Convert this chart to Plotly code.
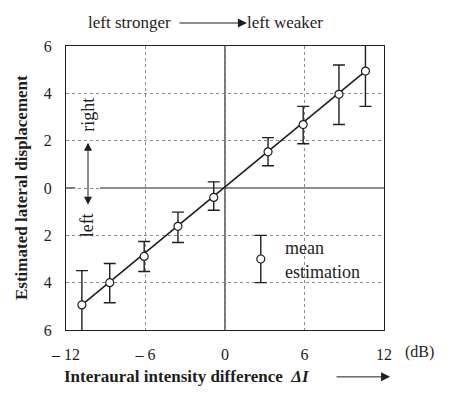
import plotly.graph_objects as go

# ---- data ----
delta_i = [-10.8, -8.7, -6.1, -3.55, -0.85, 3.25, 5.9, 8.6, 10.6]
displacement = [-4.94, -4.0, -2.89, -1.62, -0.4, 1.53, 2.68, 3.96, 4.94]
err_plus = [1.45, 0.81, 0.63, 0.6, 0.66, 0.6, 0.77, 1.24, 1.49]
err_minus = [1.49, 0.85, 0.64, 0.68, 0.54, 0.59, 0.81, 1.28, 1.49]
fit_x = [-10.8, 10.6]
fit_y = [-4.94, 4.94]
legend_x = [2.7]
legend_y = [-3.0]
legend_err = [1.0]
x_tickvals = [-12, -6, 0, 6, 12]
x_ticktext = ["\u2013 12", "\u2013 6", "0", "6", "12"]
y_tickvals = [-6, -4, -2, 0, 2, 4, 6]
y_ticktext = ["6", "4", "2", "0", "2", "4", "6"]

FONT = "Liberation Serif"
INK = "#1e1e1e"

fig = go.Figure()

fig.add_trace(go.Scatter(x=fit_x, y=fit_y, mode="lines",
                         line=dict(color=INK, width=1.6), showlegend=False,
                         hoverinfo="skip", cliponaxis=False))
fig.add_trace(go.Scatter(
    x=delta_i, y=displacement, mode="markers",
    marker=dict(symbol="circle", size=8, color="white", line=dict(color=INK, width=1.2)),
    error_y=dict(type="data", symmetric=False, array=err_plus, arrayminus=err_minus,
                 color=INK, thickness=1.4, width=6),
    showlegend=False, cliponaxis=False))
fig.add_trace(go.Scatter(
    x=legend_x, y=legend_y, mode="markers",
    marker=dict(symbol="circle", size=8, color="white", line=dict(color=INK, width=1.2)),
    error_y=dict(type="data", array=legend_err, color=INK, thickness=1.4, width=6),
    showlegend=False, cliponaxis=False))

shapes = [
    dict(type="line", xref="x", yref="y", x0=0, x1=0, y0=-6, y1=6,
         line=dict(color=INK, width=1.2), layer="below"),
    dict(type="line", xref="x", yref="y", x0=-12, x1=-11.3, y0=0, y1=0,
         line=dict(color=INK, width=1.2), layer="below"),
    dict(type="line", xref="x", yref="y", x0=-9.43, x1=12, y0=0, y1=0,
         line=dict(color=INK, width=1.2), layer="below"),
]

anns = []
tf = dict(family=FONT, size=17, color=INK)
bf = dict(family=FONT, size=18, color=INK)
anns.append(dict(text="left stronger", xref="paper", yref="paper", x=0.201, y=1.081,
                 showarrow=False, font=tf, xanchor="center", yanchor="middle"))
anns.append(dict(text="left weaker", xref="paper", yref="paper", x=0.689, y=1.081,
                 showarrow=False, font=tf, xanchor="center", yanchor="middle"))
anns.append(dict(text="", xref="paper", yref="paper", x=0.569, y=1.081,
                 ax=-69, ay=0, axref="pixel", ayref="pixel",
                 showarrow=True, arrowhead=2, arrowsize=1.8, arrowwidth=1, arrowcolor=INK))
anns.append(dict(text="(dB)", xref="paper", yref="paper", x=1.113, y=-0.077,
                 showarrow=False, font=dict(family=FONT, size=16, color=INK),
                 xanchor="center", yanchor="middle"))
anns.append(dict(text="<b>Interaural intensity difference  <i>\u0394I</i></b>",
                 xref="paper", yref="paper", x=0.381, y=-0.165,
                 showarrow=False, font=dict(family=FONT, size=17, color=INK),
                 xanchor="center", yanchor="middle"))
anns.append(dict(text="", xref="paper", yref="paper", x=1.019, y=-0.165,
                 ax=-55, ay=0, axref="pixel", ayref="pixel",
                 showarrow=True, arrowhead=2, arrowsize=1.8, arrowwidth=1, arrowcolor=INK))
anns.append(dict(text="<b>Estimated lateral displacement</b>", xref="paper", yref="paper",
                 x=-0.1415, y=0.5, textangle=-90, showarrow=False,
                 font=dict(family=FONT, size=17, color=INK),
                 xanchor="center", yanchor="middle"))
anns.append(dict(text="right", xref="x", yref="y", x=-10.4, y=3.1, textangle=-90,
                 showarrow=False, font=bf, xanchor="center", yanchor="middle"))
anns.append(dict(text="left", xref="x", yref="y", x=-10.4, y=-1.57, textangle=-90,
                 showarrow=False, font=bf, xanchor="center", yanchor="middle"))
anns.append(dict(text="", xref="x", yref="y", x=-10.34, y=1.91,
                 ax=-10.34, ay=-0.77, axref="x", ayref="y",
                 showarrow=True, arrowhead=2, startarrowhead=2, arrowside="end+start",
                 arrowsize=1.6, startarrowsize=1.6, arrowwidth=1, arrowcolor=INK))
anns.append(dict(text="mean", xref="x", yref="y", x=4.38, y=-2.55,
                 showarrow=False, font=bf, xanchor="left", yanchor="middle"))
anns.append(dict(text="estimation", xref="x", yref="y", x=4.38, y=-3.57,
                 showarrow=False, font=bf, xanchor="left", yanchor="middle"))

fig.update_layout(
    width=445, height=387,
    margin=dict(l=58, r=69, t=38, b=65),
    paper_bgcolor="white", plot_bgcolor="white",
    font=dict(family=FONT, size=16, color=INK),
    shapes=shapes, annotations=anns,
    xaxis=dict(range=[-12, 12], tickvals=x_tickvals, ticktext=x_ticktext,
               showgrid=True, gridcolor="#8a8a8a", griddash="dot", gridwidth=1,
               zeroline=False, showline=True, mirror=True, linecolor=INK, linewidth=1.2,
               ticks="", ticklabelstandoff=10, tickfont=dict(family=FONT, size=16, color=INK)),
    yaxis=dict(range=[-6, 6], tickvals=y_tickvals, ticktext=y_ticktext,
               showgrid=True, gridcolor="#8a8a8a", griddash="dot", gridwidth=1,
               zeroline=False, showline=True, mirror=True, linecolor=INK, linewidth=1.2,
               ticks="", ticklabelstandoff=10, tickfont=dict(family=FONT, size=16, color=INK)),
)

fig.write_html("out.html")
